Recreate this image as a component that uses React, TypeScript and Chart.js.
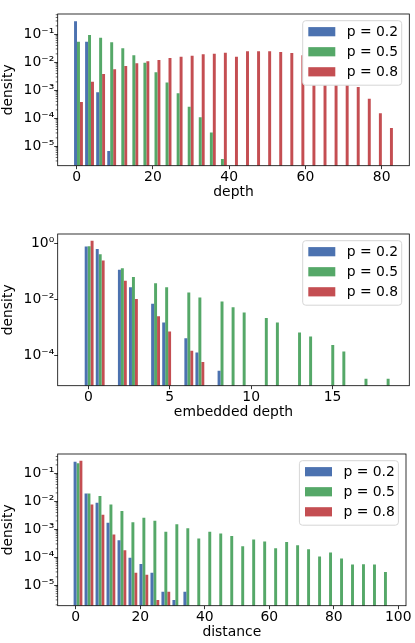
import React, { useEffect, useRef } from 'react';
import { Chart, registerables } from 'chart.js';

Chart.register(...registerables);

// ---------- shared ----------
const SERIES_LABELS = ['p = 0.2', 'p = 0.5', 'p = 0.8'];
const SERIES_COLORS = ['#4C72B0', '#55A868', '#C44E52'];
const Y_TITLE = 'density';

// ---------- panel 1: depth ----------
const DEPTH_BINS = [
  0.47, 3.37, 6.28, 9.18, 12.09, 14.99, 17.89, 20.8, 23.7, 26.61, 29.51, 32.41, 35.32, 38.22, 41.13,
  44.03, 46.93, 49.84, 52.74, 55.65, 58.55, 61.45, 64.36, 67.26, 70.17, 73.07, 75.97, 78.88, 81.78,
];
const DEPTH_P02 = [0.29, 0.054, 8.5e-4, 6.8e-6];
const DEPTH_P05 = [
  0.054, 0.095, 0.076, 0.052, 0.032, 0.018, 0.0097, 0.0044, 0.0019, 7.8e-4, 2.6e-4, 1.1e-4, 3.1e-5, 3.5e-6,
];
const DEPTH_P08 = [
  3.8e-4, 0.002, 0.0038, 0.0056, 0.0074, 0.0092, 0.0109, 0.012, 0.0142, 0.0158, 0.0172, 0.0193, 0.0203,
  0.022, 0.0158, 0.0247, 0.0247, 0.0247, 0.0233, 0.0215, 0.018, 0.012, 0.008, 0.0045, 0.0025, 0.0013,
  5.0e-4, 1.5e-4, 4.5e-5,
];
const DEPTH_XTICKS = [0, 20, 40, 60, 80];
const DEPTH_YTICKS = [1e-5, 1e-4, 1e-3, 1e-2, 1e-1];
const DEPTH_YTICK_LABELS = ['10⁻⁵', '10⁻⁴', '10⁻³', '10⁻²', '10⁻¹'];

// ---------- panel 2: embedded depth ----------
const EMB_BINS = [
  0.05, 0.73, 1.41, 2.09, 2.77, 3.45, 4.13, 4.81, 5.49, 6.17, 6.85, 7.53, 8.21, 8.89, 9.57, 10.25, 10.93,
  11.61, 12.29, 12.97, 13.65, 14.33, 15.01, 15.69, 16.37, 17.05, 17.73, 18.41,
];
const EMB_P02 = [
  0.77, 0.62, null, 0.114, 0.027, null, 0.0071, 0.0015, null, 4.2e-4, 1.3e-4, null, 2.9e-5,
];
const EMB_P05 = [
  0.78, 0.41, null, 0.13, 0.063, null, 0.038, 0.027, null, 0.0178, 0.0118, null, 0.0085, 0.0053, 0.0034,
  null, 0.0022, 0.0015, null, 6.7e-4, 4.8e-4, null, 2.4e-4, 1.4e-4, null, 1.5e-5, null, 1.5e-5,
];
const EMB_P08 = [1.23, 0.245, null, 0.046, 0.0103, null, 0.0025, 7.2e-4, null, 1.5e-4, 5.9e-5];
const EMB_XTICKS = [0, 5, 10, 15];
const EMB_YTICKS = [1e-4, 1e-2, 1];
const EMB_YTICK_LABELS = ['10⁻⁴', '10⁻²', '10⁰'];

// ---------- panel 3: distance ----------
const DIST_BINS = [
  0.71, 4.11, 7.52, 10.92, 14.33, 17.73, 21.13, 24.54, 27.94, 31.35, 34.75, 38.15, 41.56, 44.96, 48.37,
  51.77, 55.17, 58.58, 61.98, 65.39, 68.79, 72.19, 75.6, 79.0, 82.41, 85.81, 89.21, 92.62, 96.02,
];
const DIST_P02 = [0.26, 0.019, 0.0089, 0.0017, 4.1e-4, 9.6e-5, 5.8e-5, 2.8e-5, 5.9e-6, 3.0e-6, 5.9e-6];
const DIST_P05 = [
  0.23, 0.019, 0.0154, 0.0077, 0.0045, 0.0018, 0.0026, 0.002, 8.1e-4, 0.0015, 0.0011, 4.7e-4, 8.2e-4,
  7.1e-4, 5.8e-4, 2.5e-4, 4.3e-4, 3.7e-4, 2.1e-4, 3.5e-4, 2.7e-4, 1.95e-4, 1.07e-4, 1.48e-4, 9.1e-5,
  5.5e-5, 5.6e-5, 5.5e-5, 3.0e-5,
];
const DIST_P08 = [0.28, 0.0077, 0.0033, 6.5e-4, 1.8e-4, 2.8e-5, 2.4e-5, 3.0e-6, 5.9e-6];
const DIST_XTICKS = [0, 20, 40, 60, 80, 100];
const DIST_YTICKS = [1e-5, 1e-4, 1e-3, 1e-2, 1e-1];
const DIST_YTICK_LABELS = ['10⁻⁵', '10⁻⁴', '10⁻³', '10⁻²', '10⁻¹'];

// ---------- styling / layout ----------
const FONT_FAMILY = '"DejaVu Sans", sans-serif';
const FS = 13.9;
const TEXT = '#000';
const W = 415;

type Panel = {
  top: number;
  height: number;
  plotTop: number;
  plotBottom: number;
  plotLeft: number;
  plotRight: number;
  xMin: number;
  xMax: number;
  yMinExp: number;
  yMaxExp: number;
  bins: number[];
  series: (number | null)[][];
  xTicks: number[];
  yTicks: number[];
  yTickLabels: string[];
  xTitle: string;
  minor: boolean;
};

const PANELS: Panel[] = [
  {
    top: 0, height: 205, plotTop: 14, plotBottom: 165.7, plotLeft: 57.7, plotRight: 409.3,
    xMin: -4.98, xMax: 87.24, yMinExp: -5.693, yMaxExp: -0.275,
    bins: DEPTH_BINS, series: [DEPTH_P02, DEPTH_P05, DEPTH_P08],
    xTicks: DEPTH_XTICKS, yTicks: DEPTH_YTICKS, yTickLabels: DEPTH_YTICK_LABELS,
    xTitle: 'depth', minor: true,
  },
  {
    top: 220, height: 205, plotTop: 234, plotBottom: 385.7, plotLeft: 57.7, plotRight: 409.3,
    xMin: -1.88, xMax: 19.71, yMinExp: -5.07, yMaxExp: 0.33,
    bins: EMB_BINS, series: [EMB_P02, EMB_P05, EMB_P08],
    xTicks: EMB_XTICKS, yTicks: EMB_YTICKS, yTickLabels: EMB_YTICK_LABELS,
    xTitle: 'embedded depth', minor: false,
  },
  {
    top: 440, height: 203, plotTop: 454, plotBottom: 605.7, plotLeft: 57.7, plotRight: 406,
    xMin: -5.58, xMax: 102.39, yMinExp: -5.73, yMaxExp: -0.31,
    bins: DIST_BINS, series: [DIST_P02, DIST_P05, DIST_P08],
    xTicks: DIST_XTICKS, yTicks: DIST_YTICKS, yTickLabels: DIST_YTICK_LABELS,
    xTitle: 'distance', minor: true,
  },
];

function roundedRect(ctx: CanvasRenderingContext2D, x: number, y: number, w: number, h: number, r: number) {
  ctx.beginPath();
  ctx.moveTo(x + r, y);
  ctx.lineTo(x + w - r, y);
  ctx.arcTo(x + w, y, x + w, y + r, r);
  ctx.lineTo(x + w, y + h - r);
  ctx.arcTo(x + w, y + h, x + w - r, y + h, r);
  ctx.lineTo(x + r, y + h);
  ctx.arcTo(x, y + h, x, y + h - r, r);
  ctx.lineTo(x, y + r);
  ctx.arcTo(x, y, x + r, y, r);
  ctx.closePath();
}

const framePlugin = {
  id: 'frame',
  afterDatasetsDraw(chart: any, _args: any, opts: any) {
    const { ctx, chartArea: a } = chart;
    const y = chart.scales.y;
    ctx.save();
    // minor ticks on the log axis
    if (opts && opts.minor) {
      ctx.strokeStyle = '#000';
      ctx.lineWidth = 0.6;
      ctx.beginPath();
      const lo = Math.floor(Math.log10(y.min));
      const hi = Math.ceil(Math.log10(y.max));
      for (let n = lo; n <= hi; n++) {
        for (let k = 2; k <= 9; k++) {
          const v = k * Math.pow(10, n);
          if (v < y.min || v > y.max) continue;
          const py = y.getPixelForValue(v);
          ctx.moveTo(a.left, py);
          ctx.lineTo(a.left - 2, py);
        }
      }
      ctx.stroke();
    }
    // spines
    ctx.strokeStyle = '#000';
    ctx.lineWidth = 0.8;
    ctx.strokeRect(a.left, a.top, a.right - a.left, a.bottom - a.top);

    // legend
    const bw = 99;
    const bh = 64.5;
    const bx = a.right - 7.6 - bw;
    const by = a.top + 6.7;
    roundedRect(ctx, bx, by, bw, bh, 3);
    ctx.fillStyle = '#ffffff';
    ctx.fill();
    ctx.strokeStyle = '#d6d6d6';
    ctx.lineWidth = 1;
    ctx.stroke();
    ctx.font = `${FS}px ${FONT_FAMILY}`;
    ctx.textBaseline = 'middle';
    ctx.textAlign = 'left';
    chart.data.datasets.forEach((ds: any, i: number) => {
      const cy = by + 11 + i * 20.05;
      ctx.fillStyle = ds.backgroundColor;
      ctx.fillRect(bx + 5.6, cy - 4.6, 27, 9.2);
      ctx.fillStyle = TEXT;
      ctx.fillText(ds.label, bx + 44, cy + 0.5);
    });
    ctx.restore();
  },
};

function PanelChart({ cfg }: { cfg: Panel }) {
  const ref = useRef<HTMLCanvasElement | null>(null);
  useEffect(() => {
    if (!ref.current) return;
    const lineH = FS * 1.2;
    const xAxisHeight = cfg.top + cfg.height - cfg.plotBottom;
    const titleMiddle = cfg.plotBottom + 26.2;
    const titlePadBottom = cfg.top + cfg.height - titleMiddle - lineH / 2;
    const font = { family: FONT_FAMILY, size: FS };
    const datasets = cfg.series.map((vals, si) => ({
      label: SERIES_LABELS[si],
      backgroundColor: SERIES_COLORS[si],
      borderWidth: 0,
      categoryPercentage: 0.8,
      barPercentage: 1.0,
      data: vals
        .map((v, i) => (v === null || v === undefined ? null : { x: cfg.bins[i], y: v }))
        .filter((p) => p !== null),
    }));
    const gridOpts = {
      display: true,
      drawOnChartArea: false,
      drawTicks: true,
      offset: false,
      tickLength: 3.5,
      tickWidth: 0.8,
      tickColor: '#000',
    };
    const chart = new Chart(ref.current, {
      type: 'bar',
      data: { datasets } as any,
      plugins: [framePlugin as any],
      options: {
        responsive: false,
        animation: false,
        devicePixelRatio: 1,
        layout: { padding: { top: cfg.plotTop - cfg.top, right: W - cfg.plotRight, left: 0, bottom: 0 } },
        plugins: {
          legend: { display: false },
          tooltip: { enabled: false },
          frame: { minor: cfg.minor },
        } as any,
        scales: {
          x: {
            type: 'linear',
            min: cfg.xMin,
            max: cfg.xMax,
            offset: false,
            stacked: false,
            grid: gridOpts,
            border: { display: false },
            ticks: {
              autoSkip: false,
              maxRotation: 0,
              minRotation: 0,
              padding: 0,
              color: TEXT,
              font,
              callback: (_v: any, i: number) => String(cfg.xTicks[i]),
            },
            title: {
              display: true,
              text: cfg.xTitle,
              color: TEXT,
              font,
              padding: { top: 0, bottom: titlePadBottom },
            },
            afterBuildTicks: (s: any) => {
              s.ticks = cfg.xTicks.map((v) => ({ value: v }));
            },
            afterFit: (s: any) => {
              s.height = xAxisHeight;
            },
          },
          y: {
            type: 'logarithmic',
            min: Math.pow(10, cfg.yMinExp),
            max: Math.pow(10, cfg.yMaxExp),
            offset: false,
            grid: gridOpts,
            border: { display: false },
            ticks: {
              autoSkip: false,
              padding: 0,
              color: TEXT,
              font,
              callback: (_v: any, i: number) => cfg.yTickLabels[i],
            },
            title: {
              display: true,
              text: Y_TITLE,
              color: TEXT,
              font,
              padding: { top: 0.5, bottom: 0 },
            },
            afterBuildTicks: (s: any) => {
              s.ticks = cfg.yTicks.map((v) => ({ value: v }));
            },
            afterFit: (s: any) => {
              s.width = cfg.plotLeft;
            },
          },
        } as any,
      },
    });
    return () => chart.destroy();
  }, [cfg]);
  return (
    <canvas
      ref={ref}
      width={W}
      height={cfg.height}
      style={{ position: 'absolute', left: 0, top: cfg.top, width: W, height: cfg.height }}
    />
  );
}

export default function App() {
  return (
    <div
      style={{
        position: 'absolute',
        left: 0,
        top: 0,
        width: W,
        height: 643,
        overflow: 'hidden',
        background: '#ffffff',
      }}
    >
      {PANELS.map((p, i) => (
        <PanelChart key={i} cfg={p} />
      ))}
    </div>
  );
}
